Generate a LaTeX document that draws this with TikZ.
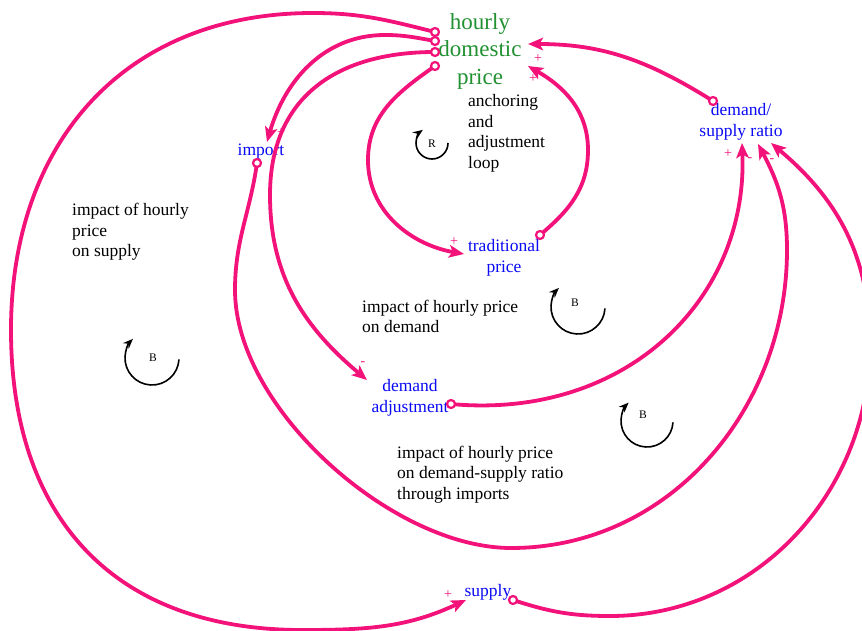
\documentclass[tikz,border=0pt]{standalone}
\usepackage{fontspec}
\setmainfont{Liberation Serif}
\usetikzlibrary{arrows.meta}
\definecolor{lk}{RGB}{242,18,122}
\definecolor{vb}{RGB}{10,10,245}
\definecolor{hg}{RGB}{34,145,50}
\tikzset{
  link/.style={draw=lk, line width=3.8pt, -{Stealth[length=15pt,width=12.5pt,inset=3.5pt]}},
  port/.style={draw=lk, fill=white, line width=2.2pt},
  var/.style={text=vb, font=\fontsize{17.5}{20.5}\selectfont, align=center, inner sep=0pt},
  note/.style={font=\fontsize{17.5}{20.5}\selectfont, align=left, anchor=west, inner sep=0pt},
  pol/.style={text=lk, font=\fontsize{14}{14}\selectfont, inner sep=0pt},
  looparrow/.style={line width=1.6pt, -{Stealth[length=10pt,width=8pt]}},
  looplab/.style={font=\fontsize{11.5}{12}\selectfont, inner sep=0pt},
}
\begin{document}
\begin{tikzpicture}[x=1pt,y=1pt]
\useasboundingbox (0,0) rectangle (862,-631);
\fill[white] (0,0) rectangle (862,-631);
\clip (0,0) rectangle (862,-631);

% variables
\node[var, text=hg, font=\fontsize{23}{27.5}\selectfont] (hdp) at (480,-51) {hourly\\domestic\\price};
\node[var] (imp) at (261,-152) {import};
\node[var] (ratio) at (741,-122) {demand/\\supply ratio};
\node[var] (trad) at (504,-258) {traditional\\price};
\node[var] (dadj) at (410,-398) {demand\\adjustment};
\node[var] (sup) at (488,-592) {supply};

% notes
\node[note] (n1) at (72,-232) {impact of hourly\\price\\on supply};
\node[note] (n2) at (468,-133.5) {anchoring\\and\\adjustment\\loop};
\node[note] (n3) at (362,-316.5) {impact of hourly price\\on demand};
\node[note] (n4) at (397,-474.5) {impact of hourly price\\on demand-supply ratio\\through imports};

% ports
\coordinate (hdp-o1) at (435,-32);
\coordinate (hdp-o2) at (435,-41);
\coordinate (hdp-o3) at (435,-52);
\coordinate (hdp-o4) at (435,-66);
\coordinate (hdp-i1) at (528,-44);
\coordinate (hdp-i2) at (528,-66);
\coordinate (imp-i) at (267,-142);
\coordinate (imp-o) at (257,-163);
\coordinate (ratio-o) at (713,-101);
\coordinate (ratio-i1) at (742,-143);
\coordinate (ratio-i2) at (758,-144);
\coordinate (ratio-i3) at (771,-143);
\coordinate (trad-i) at (464,-254);
\coordinate (trad-o) at (540,-235);
\coordinate (dadj-i) at (367,-380);
\coordinate (dadj-o) at (451,-404);
\coordinate (sup-i) at (466,-600);
\coordinate (sup-o) at (513,-600);

% connectors
\draw[link] (hdp-o1) to[out=166,in=0] (313,-13)
  to[out=180,in=90,looseness=1.1] (11,-330)
  to[out=-90,in=180,looseness=1.15] (302,-630)
  to[out=0,in=205] (sup-i);
\draw[link] (hdp-o2) to[out=170,in=0] (385,-35) to[out=180,in=74] (imp-i);
\draw[link] (hdp-o3) to[out=180,in=90,looseness=1.15] (270,-195) to[out=-90,in=140] (dadj-i);
\draw[link] (hdp-o4) to[out=215,in=90] (368,-160) to[out=-90,in=170] (trad-i);
\draw[link] (trad-o) to[out=40,in=-90] (588,-150) to[out=90,in=-30] (hdp-i2);
\draw[link] (ratio-o) to[out=148,in=0] (hdp-i1);
\draw[link] (dadj-o) .. controls (625,-420) and (748,-300) .. (ratio-i1);
\draw[link] (imp-o) to[out=-98,in=90] (235,-290)
  to[out=-90,in=180,looseness=0.8] (511,-548)
  to[out=0,in=-90] (787,-250)
  to[out=90,in=-62] (ratio-i2);
\draw[link] (sup-o) to[out=-18,in=180] (610,-616)
  to[out=0,in=-90] (870,-345)
  to[out=90,in=-40] (ratio-i3);

% port circles
\foreach \p in {hdp-o1,hdp-o2,hdp-o3,hdp-o4,imp-o,ratio-o,trad-o,dadj-o,sup-o}
  \draw[port] (\p) circle[radius=4];

% polarities
\node[pol] (p1) at (281,-133) {+};
\node[pol] (p2) at (363,-364) {-};
\node[pol] (p3) at (454,-242) {+};
\node[pol] (p4) at (538,-59) {+};
\node[pol] (p5) at (533,-79) {+};
\node[pol] (p6) at (728,-154) {+};
\node[pol] (p7) at (750,-160) {-};
\node[pol] (p8) at (772,-161) {-};
\node[pol] (p9) at (448,-595) {+};

% loop markers
\node[looplab] (lr) at (432,-144) {R};
\draw[looparrow] ([shift={(0:16)}]432,-143) arc[start angle=0, end angle=-235, radius=16];
\node[looplab] (lb1) at (575,-303) {B};
\draw[looparrow] ([shift={(-3:27)}]578,-307) arc[start angle=-3, end angle=-225, radius=27];
\node[looplab] (lb2) at (153,-358) {B};
\draw[looparrow] ([shift={(-3:27)}]152,-358) arc[start angle=-3, end angle=-225, radius=27];
\node[looplab] (lb3) at (643,-415) {B};
\draw[looparrow] ([shift={(-3:26)}]647,-421) arc[start angle=-3, end angle=-225, radius=26];
\end{tikzpicture}
\end{document}
